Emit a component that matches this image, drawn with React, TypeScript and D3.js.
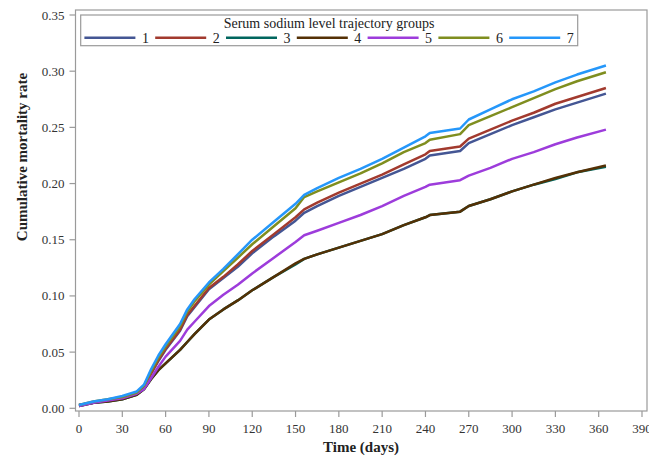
import React, {useEffect, useRef} from 'react';
import * as d3 from 'd3';

const days = [0, 10, 20, 30, 40, 45, 50, 55, 60, 70, 75, 80, 90, 100, 110, 120, 135, 150, 156, 165, 180, 195, 210, 225, 240, 243, 264, 270, 285, 300, 315, 330, 345, 365];

const group1 = [.003, .005, .007, .010, .014, .019, .031, .042, .052, .069, .082, .090, .106, .116, .126, .138, .153, .167, .174, .180, .189, .197, .205, .213, .222, .225, .229, .236, .244, .252, .259, .266, .272, .280];
const group2 = [.003, .005, .007, .010, .014, .019, .031, .043, .053, .070, .083, .091, .107, .117, .128, .140, .155, .170, .177, .183, .192, .200, .208, .217, .226, .229, .233, .240, .248, .256, .263, .271, .277, .285];
const group3 = [.002, .005, .006, .008, .012, .017, .026, .034, .040, .052, .059, .066, .079, .088, .096, .105, .117, .128, .133, .137, .143, .149, .155, .163, .170, .172, .175, .180, .186, .193, .199, .204, .210, .215];
const group4 = [.002, .005, .006, .008, .012, .017, .026, .034, .040, .052, .059, .066, .079, .088, .096, .105, .117, .129, .133, .137, .143, .149, .155, .163, .170, .172, .175, .180, .186, .193, .199, .205, .210, .216];
const group5 = [.002, .005, .007, .009, .013, .017, .027, .037, .046, .060, .070, .077, .091, .101, .110, .120, .134, .148, .154, .158, .165, .172, .180, .189, .197, .199, .203, .207, .214, .222, .228, .235, .241, .248];
const group6 = [.003, .006, .008, .010, .014, .020, .033, .045, .055, .073, .086, .095, .110, .122, .134, .146, .162, .178, .188, .193, .201, .209, .218, .228, .236, .239, .244, .252, .260, .268, .276, .284, .291, .299];
const group7 = [.003, .006, .008, .011, .015, .021, .035, .047, .057, .075, .088, .097, .112, .124, .137, .150, .166, .182, .190, .196, .205, .213, .222, .232, .242, .245, .249, .257, .266, .275, .282, .290, .297, .305];

const groupNames = ['1', '2', '3', '4', '5', '6', '7'];
const groupColors = ['#445694', '#A23A2E', '#01665E', '#543005', '#9D3CDB', '#7F8E1F', '#2597FA'];
const xTicks = [0, 30, 60, 90, 120, 150, 180, 210, 240, 270, 300, 330, 360, 390];
const yTicks = [0, 0.05, 0.10, 0.15, 0.20, 0.25, 0.30, 0.35];

export default function App() {
    const svgRef = useRef<SVGSVGElement>(null);

    useEffect(() => {
        const series = [group1, group2, group3, group4, group5, group6, group7];
        const font = '"Liberation Serif", "Times New Roman", serif';
        const width = 649;
        const height = 458;

        d3.select(svgRef.current).selectAll('*').remove();
        const svg = d3.select(svgRef.current)
            .attr('width', width)
            .attr('height', height);

        const xScale = d3.scaleLinear().domain([0, 390]).range([79, 642]);
        const yScale = d3.scaleLinear().domain([0, 0.35]).range([408.3, 15]);
        const frame = {left: 75.5, right: 647, top: 10, bottom: 411};

        svg.append('rect')
            .attr('x', frame.left)
            .attr('y', frame.top)
            .attr('width', frame.right - frame.left)
            .attr('height', frame.bottom - frame.top)
            .attr('fill', 'white')
            .attr('stroke', '#9a9a9a')
            .attr('stroke-width', 1.2);

        // x ticks
        const xg = svg.append('g');
        xTicks.forEach(t => {
            xg.append('line')
                .attr('x1', xScale(t)).attr('x2', xScale(t))
                .attr('y1', frame.bottom).attr('y2', frame.bottom + 6)
                .attr('stroke', '#9a9a9a').attr('stroke-width', 1.2);
            xg.append('text')
                .attr('x', xScale(t))
                .attr('y', 433)
                .attr('text-anchor', 'middle')
                .attr('font-family', font)
                .attr('font-size', '13px')
                .attr('fill', '#333')
                .text(t);
        });

        // y ticks
        const yg = svg.append('g');
        yTicks.forEach(t => {
            yg.append('line')
                .attr('x1', frame.left - 6).attr('x2', frame.left)
                .attr('y1', yScale(t)).attr('y2', yScale(t))
                .attr('stroke', '#9a9a9a').attr('stroke-width', 1.2);
            yg.append('text')
                .attr('x', 64.5)
                .attr('y', yScale(t) + 4.5)
                .attr('text-anchor', 'end')
                .attr('font-family', font)
                .attr('font-size', '13px')
                .attr('fill', '#333')
                .text(t.toFixed(2));
        });

        svg.append('text')
            .attr('x', 361)
            .attr('y', 452)
            .attr('text-anchor', 'middle')
            .attr('font-family', font)
            .attr('font-size', '15px')
            .attr('font-weight', 'bold')
            .attr('fill', '#222')
            .text('Time (days)');

        svg.append('text')
            .attr('transform', 'translate(27,157) rotate(-90)')
            .attr('text-anchor', 'middle')
            .attr('font-family', font)
            .attr('font-size', '15px')
            .attr('font-weight', 'bold')
            .attr('fill', '#222')
            .text('Cumulative mortality rate');

        const line = d3.line<number>()
            .x((d, i) => xScale(days[i]))
            .y(d => yScale(d));

        series.forEach((s, i) => {
            svg.append('path')
                .datum(s)
                .attr('fill', 'none')
                .attr('stroke', groupColors[i])
                .attr('stroke-width', 2.5)
                .attr('stroke-linejoin', 'round')
                .attr('d', line);
        });

        // legend
        const lg = svg.append('g');
        lg.append('rect')
            .attr('x', 80.7).attr('y', 15)
            .attr('width', 497).attr('height', 30.7)
            .attr('fill', 'white')
            .attr('stroke', '#9a9a9a')
            .attr('stroke-width', 1.2);
        lg.append('text')
            .attr('x', 329)
            .attr('y', 28)
            .attr('text-anchor', 'middle')
            .attr('font-family', font)
            .attr('font-size', '14px')
            .attr('fill', '#222')
            .text('Serum sodium level trajectory groups');
        groupNames.forEach((name, i) => {
            const x0 = 84.4 + i * 70.8;
            lg.append('line')
                .attr('x1', x0).attr('x2', x0 + 51)
                .attr('y1', 37.7).attr('y2', 37.7)
                .attr('stroke', groupColors[i])
                .attr('stroke-width', 2.5);
            lg.append('text')
                .attr('x', x0 + 61)
                .attr('y', 42.5)
                .attr('text-anchor', 'middle')
                .attr('font-family', font)
                .attr('font-size', '14px')
                .attr('fill', '#222')
                .text(name);
        });
    }, []);

    return (
        <svg ref={svgRef} style={{position: 'absolute', left: 0, top: 0}}></svg>
    );
}
